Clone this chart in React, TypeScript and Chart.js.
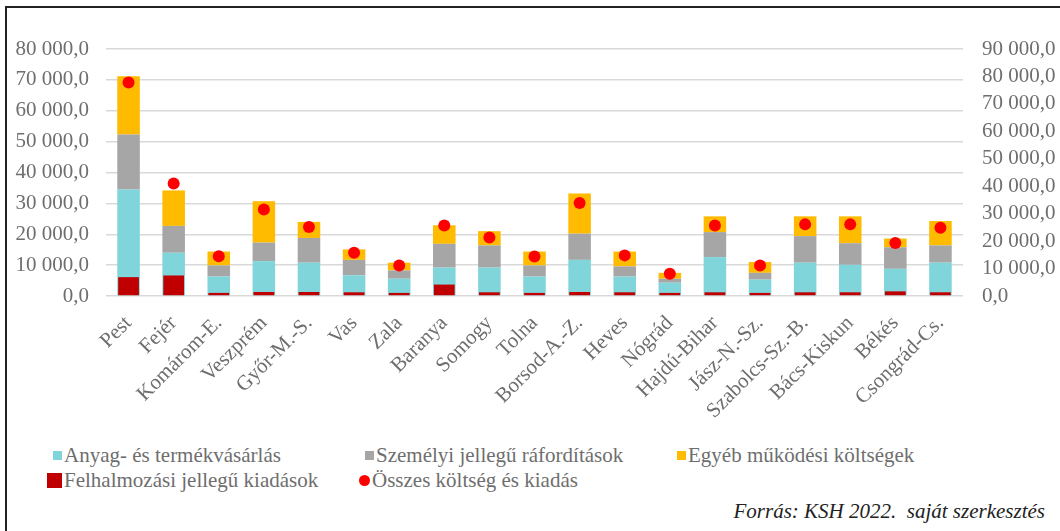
import React, { useEffect, useRef } from 'react';
import { Chart, registerables } from 'chart.js';
Chart.register(...registerables);

const categories = ['Pest', 'Fejér', 'Komárom-E.', 'Veszprém', 'Győr-M.-S.', 'Vas', 'Zala', 'Baranya', 'Somogy', 'Tolna', 'Borsod-A.-Z.', 'Heves', 'Nógrád', 'Hajdú-Bihar', 'Jász-N.-Sz.', 'Szabolcs-Sz.-B.', 'Bács-Kiskun', 'Békés', 'Csongrád-Cs.'];

const seriesNames = ['Anyag- és termékvásárlás', 'Személyi jellegű ráfordítások', 'Egyéb működési költségek', 'Felhalmozási jellegű kiadások', 'Összes költség és kiadás'];

const anyag = [34500, 14000, 6300, 11300, 10800, 6700, 5600, 9200, 9200, 6300, 11700, 6300, 4300, 12600, 5300, 10800, 10100, 8800, 10800];
const szemelyi = [17800, 8700, 3600, 6000, 8000, 5000, 2700, 7700, 7200, 3600, 8500, 3300, 1300, 8100, 2200, 8600, 7000, 7000, 5600];
const egyeb = [18900, 11500, 4500, 13400, 5200, 3400, 2500, 6000, 4600, 4500, 13000, 4800, 1900, 5100, 3500, 6400, 8700, 2800, 7900];
const felhalmozasi = [6100, 6650, 1000, 1300, 1300, 1200, 1000, 3700, 1200, 1000, 1300, 1200, 1000, 1200, 1000, 1200, 1200, 1500, 1200];
const osszes = [77800, 41000, 14500, 31500, 25100, 15800, 11100, 25700, 21300, 14400, 33900, 14800, 8100, 25700, 11100, 26100, 26100, 19300, 24900];

const leftTicksMax = 80000;
const rightTicksMax = 90000;
const tickStep = 10000;

const colors = ['#7fd5da', '#a6a6a6', '#ffbb00', '#c00000', '#ff0000'];
const serif = '"Liberation Serif", "Times New Roman", Tinos, "Nimbus Roman", FreeSerif, "DejaVu Serif", serif';
const textGray = '#6e6e6e';

const fmt = (v: number) => Math.round(v).toString().replace(/\B(?=(\d{3})+(?!\d))/g, ' ') + ',0';

export default function App() {
  const ref = useRef<HTMLCanvasElement | null>(null);

  useEffect(() => {
    document.body.style.margin = '0';
    document.body.style.background = '#ffffff';
    const canvas = ref.current;
    if (!canvas) return;
    const font = { family: serif, size: 21 };
    const chart = new Chart(canvas, {
      type: 'bar',
      data: {
        labels: categories,
        datasets: [
          { label: seriesNames[0], data: anyag, backgroundColor: colors[0], yAxisID: 'y', stack: 'main', order: 2 },
          { label: seriesNames[1], data: szemelyi, backgroundColor: colors[1], yAxisID: 'y', stack: 'main', order: 2 },
          { label: seriesNames[2], data: egyeb, backgroundColor: colors[2], yAxisID: 'y', stack: 'main', order: 2 },
          { label: seriesNames[3], data: felhalmozasi, backgroundColor: colors[3], yAxisID: 'y', stack: 'felh', grouped: false, order: 1, barPercentage: 0.46, categoryPercentage: 1 } as any,
          {
            type: 'line', label: seriesNames[4], data: osszes, yAxisID: 'y1', order: 0,
            showLine: false, pointRadius: 6, pointBackgroundColor: colors[4], pointBorderWidth: 0, borderColor: colors[4],
          } as any,
        ],
      },
      options: {
        animation: false,
        responsive: false,
        datasets: { bar: { barPercentage: 0.5, categoryPercentage: 1 } },
        layout: { padding: { top: 49, left: 0, right: 0, bottom: 0 } },
        plugins: { legend: { display: false }, tooltip: { enabled: false } },
        scales: {
          x: {
            stacked: true,
            grid: { display: false, drawTicks: false },
            border: { display: false },
            ticks: { autoSkip: false, maxRotation: 45, minRotation: 45, padding: 15, font, color: textGray },
            afterFit: (s: any) => { s.height = 144; },
          },
          y: {
            stacked: true,
            min: 0,
            max: leftTicksMax,
            ticks: { autoSkip: false, stepSize: tickStep, callback: (v: any) => fmt(Number(v)), padding: 17, font, color: textGray },
            grid: { color: '#d9d9d9', lineWidth: 1.5, drawTicks: false },
            border: { display: false },
            afterFit: (s: any) => { s.width = 106; },
          },
          y1: {
            position: 'right',
            min: 0,
            max: rightTicksMax,
            ticks: { autoSkip: false, stepSize: tickStep, callback: (v: any) => fmt(Number(v)), padding: 19, font, color: textGray },
            grid: { display: false, drawTicks: false },
            border: { display: false },
            afterFit: (s: any) => { s.width = 97; },
          },
        } as any,
      },
    });
    return () => chart.destroy();
  }, []);

  const legendText: React.CSSProperties = { fontFamily: serif, fontSize: 21, color: textGray, whiteSpace: 'nowrap', lineHeight: '24px' };
  const item = (left: number, top: number, marker: React.ReactNode, text: string) => (
    <div style={{ position: 'absolute', left, top, height: 24, display: 'flex', alignItems: 'center' }}>
      <div style={{ width: 16, display: 'flex', justifyContent: 'flex-end', marginRight: 2 }}>{marker}</div>
      <span style={legendText}>{text}</span>
    </div>
  );
  const sq = (c: string, size: number) => <div style={{ width: size, height: size, background: c }} />;
  const dot = (c: string, size: number) => <div style={{ width: size, height: size, background: c, borderRadius: '50%' }} />;

  return (
    <div style={{ position: 'relative', width: 1060, height: 531, overflow: 'hidden', background: '#fff' }}>
      <div style={{ position: 'absolute', left: 5, top: 6, width: 1070, height: 540, borderLeft: '2px solid #222', borderTop: '2px solid #222' }} />
      <canvas ref={ref} width={1060} height={440} style={{ position: 'absolute', left: 0, top: 0, width: 1060, height: 440 }} />
      {item(46, 443, sq(colors[0], 9), seriesNames[0])}
      {item(358, 443, sq(colors[1], 9), seriesNames[1])}
      {item(670, 443, sq(colors[2], 9), seriesNames[2])}
      {item(46, 468, sq(colors[3], 15), seriesNames[3])}
      {item(354, 468, dot(colors[4], 11), seriesNames[4])}
      <div style={{ position: 'absolute', right: 15, top: 499, fontFamily: serif, fontStyle: 'italic', fontSize: 21, color: '#222', whiteSpace: 'pre' }}>
        {'Forrás: KSH 2022.  saját szerkesztés'}
      </div>
    </div>
  );
}
